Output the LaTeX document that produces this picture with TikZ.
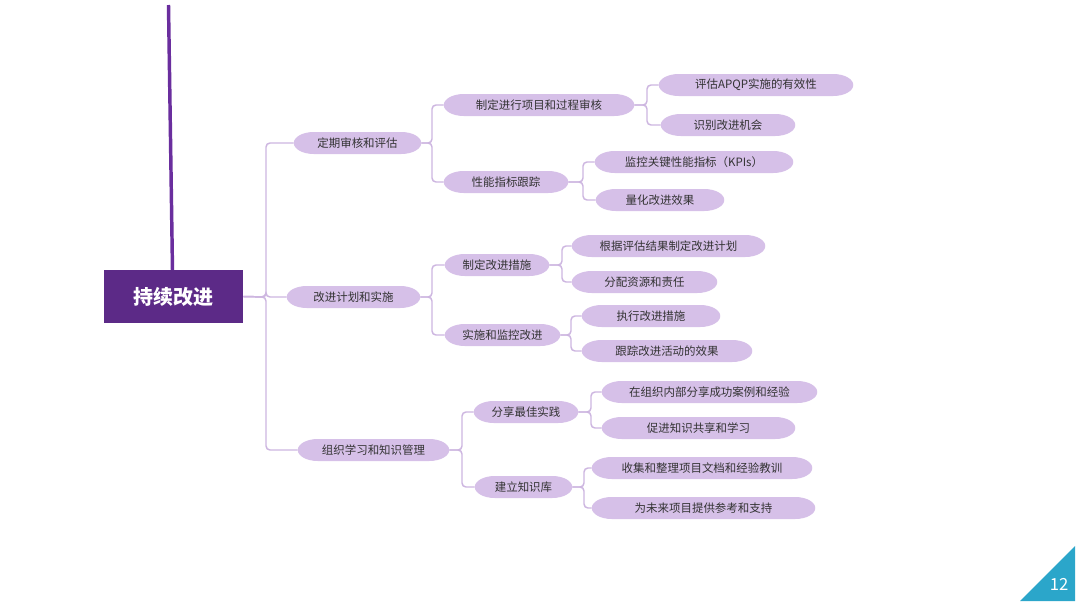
\documentclass[tikz,border=0pt]{standalone}
\usepackage{fontspec}
\setmainfont{Noto Sans CJK SC}
\usetikzlibrary{backgrounds}
\definecolor{rootc}{HTML}{5C2A87}
\definecolor{linec}{HTML}{6A2E9E}
\definecolor{connc}{HTML}{CDB6E0}
\definecolor{nodec}{HTML}{D6C0E8}
\definecolor{txtc}{HTML}{333333}
\definecolor{pagec}{HTML}{2BA6CA}
\tikzset{
  ew/.style={minimum width=#1*0.75pt},
  pill/.style={rectangle, draw=none, inner sep=0pt, minimum height=22*0.75pt, text=txtc, font=\fontsize{8.6}{9}\selectfont},
  conn/.style={draw=connc, line width=1.1pt, rounded corners=3pt},
  rootbox/.style={rectangle, fill=rootc, text=white, font=\fontsize{15}{17}\selectfont\bfseries, minimum width=139*0.75pt, minimum height=53*0.75pt, inner sep=0pt}
}
\begin{document}
\begin{tikzpicture}[x=0.75pt, y=-0.75pt]
\useasboundingbox (0,0) rectangle (1080,607);
% vertical decorative line
\coordinate (vtop) at (168.5,5);
\coordinate (vbot) at (172.5,271);
\draw[linec, line width=2.6pt] (vtop) -- (vbot);
% root
\node[rootbox] (root) at (173.5,296.5) {持续改进};
% level 1
\node[pill, ew=127] (a) at (357.5,143) {定期审核和评估};
\node[pill, ew=133] (b) at (353.5,297) {改进计划和实施};
\node[pill, ew=151] (c) at (373.5,450) {组织学习和知识管理};
% level 2
\node[pill, ew=190] (a1) at (539,105) {制定进行项目和过程审核};
\node[pill, ew=124] (a2) at (506,182) {性能指标跟踪};
\node[pill, ew=104] (b1) at (497,265) {制定改进措施};
\node[pill, ew=115] (b2) at (502.5,335) {实施和监控改进};
\node[pill, ew=104] (c1) at (526,412) {分享最佳实践};
\node[pill, ew=97] (c2) at (523.5,487) {建立知识库};
% level 3
\node[pill, ew=194] (a11) at (756,85) {评估APQP实施的有效性};
\node[pill, ew=134] (a12) at (728,125) {识别改进机会};
\node[pill, ew=198] (a21) at (694,162) {监控关键性能指标（KPIs）};
\node[pill, ew=128] (a22) at (660,200) {量化改进效果};
\node[pill, ew=193] (b11) at (668.5,246) {根据评估结果制定改进计划};
\node[pill, ew=145] (b12) at (644.5,282) {分配资源和责任};
\node[pill, ew=138] (b21) at (651,316) {执行改进措施};
\node[pill, ew=170] (b22) at (667,351) {跟踪改进活动的效果};
\node[pill, ew=215] (c11) at (709.5,392) {在组织内部分享成功案例和经验};
\node[pill, ew=193] (c12) at (698.5,428) {促进知识共享和学习};
\node[pill, ew=220] (c21) at (702,468) {收集和整理项目文档和经验教训};
\node[pill, ew=223] (c22) at (703.5,508) {为未来项目提供参考和支持};
% pill backgrounds
\begin{scope}[on background layer]
\foreach \n in {a,b,c,a1,a2,b1,b2,c1,c2,a11,a12,a21,a22,b11,b12,b21,b22,c11,c12,c21,c22}{
  \fill[nodec] ([xshift=15pt,yshift=8.25pt]\n.west) -- ([xshift=-15pt,yshift=8.25pt]\n.east)
    arc[start angle=90, end angle=-90, x radius=15pt, y radius=8.25pt]
    -- ([xshift=15pt,yshift=-8.25pt]\n.west)
    arc[start angle=270, end angle=90, x radius=15pt, y radius=8.25pt] -- cycle;
}
\end{scope}
% connectors
\coordinate (r0) at (266,297);
\draw[conn] (root.east) -- (r0) |- (a.west);
\draw[conn] (root.east) -- (r0) |- (b.west);
\draw[conn] (root.east) -- (r0) |- (c.west);
\coordinate (ap) at (432,143);
\draw[conn] (a.east) -- (ap) |- (a1.west);
\draw[conn] (a.east) -- (ap) |- (a2.west);
\coordinate (bp) at (432,297);
\draw[conn] (b.east) -- (bp) |- (b1.west);
\draw[conn] (b.east) -- (bp) |- (b2.west);
\coordinate (cp) at (462,450);
\draw[conn] (c.east) -- (cp) |- (c1.west);
\draw[conn] (c.east) -- (cp) |- (c2.west);
\coordinate (a1p) at (647,105);
\draw[conn] (a1.east) -- (a1p) |- (a11.west);
\draw[conn] (a1.east) -- (a1p) |- (a12.west);
\coordinate (a2p) at (583,182);
\draw[conn] (a2.east) -- (a2p) |- (a21.west);
\draw[conn] (a2.east) -- (a2p) |- (a22.west);
\coordinate (b1p) at (562,265);
\draw[conn] (b1.east) -- (b1p) |- (b11.west);
\draw[conn] (b1.east) -- (b1p) |- (b12.west);
\coordinate (b2p) at (571,335);
\draw[conn] (b2.east) -- (b2p) |- (b21.west);
\draw[conn] (b2.east) -- (b2p) |- (b22.west);
\coordinate (c1p) at (591,412);
\draw[conn] (c1.east) -- (c1p) |- (c11.west);
\draw[conn] (c1.east) -- (c1p) |- (c12.west);
\coordinate (c2p) at (584,487);
\draw[conn] (c2.east) -- (c2p) |- (c21.west);
\draw[conn] (c2.east) -- (c2p) |- (c22.west);
% page number
\fill[pagec] (1020,601) -- (1075,546) -- (1075,601) -- cycle;
\node[text=white, font=\fontsize{12.5}{14}\selectfont, inner sep=0pt] (pg) at (1059,584) {12};
\end{tikzpicture}
\end{document}
